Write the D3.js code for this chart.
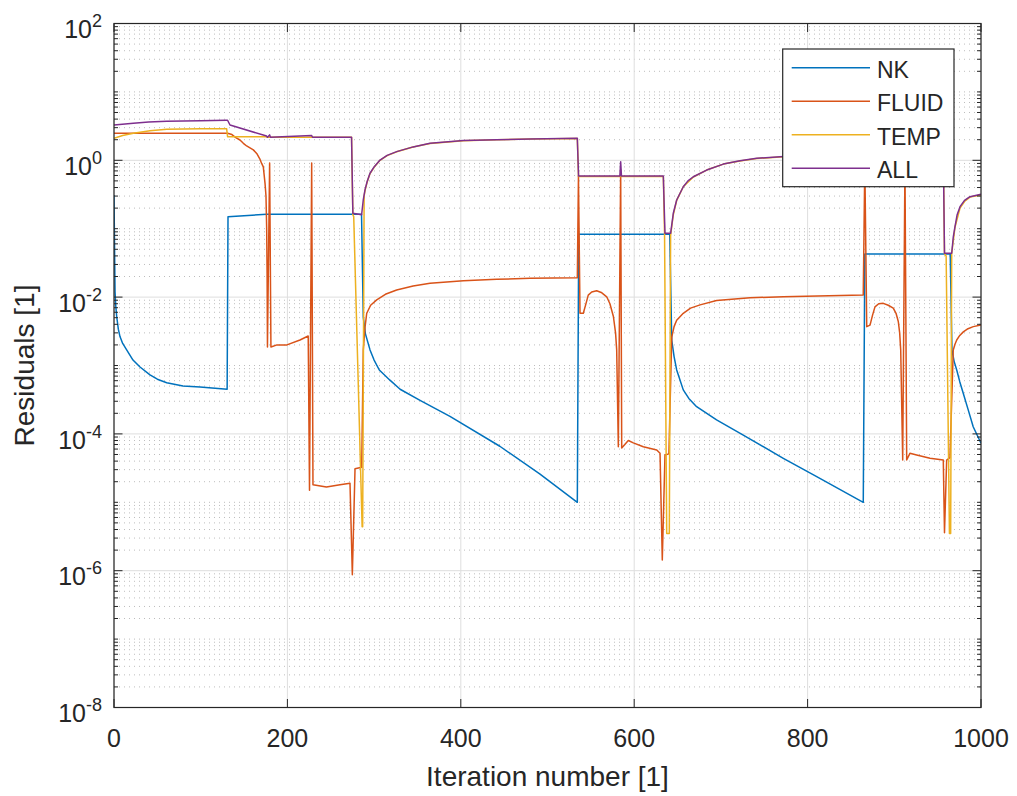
<!DOCTYPE html>
<html>
<head>
<meta charset="utf-8">
<script src="https://d3js.org/d3.v7.min.js"></script>
<style>
  body { margin: 0; background: #fff; }
  text { font-family: "Liberation Sans", Arial, Helvetica, sans-serif; fill: #262626; }
</style>
</head>
<body>
<svg id="chart" width="1017" height="796"></svg>
<script>
// ---- data: [iteration, residual] ----
const NK = [
  [0, 0.31], [0.4, 0.1], [1.2, 0.012], [2, 7.5e-3], [3.1, 5.2e-3], [5, 3.4e-3], [6.9, 2.65e-3],
  [10, 2.1e-3], [14.6, 1.69e-3], [21.9, 1.2e-3], [30, 9.5e-4], [41.5, 7.3e-4], [50, 6.3e-4],
  [60.8, 5.6e-4], [79.6, 5.0e-4], [99.2, 4.85e-4], [130.5, 4.5e-4],
  [131.5, 0.15], [176, 0.162], [285.5, 0.162],
  [287.5, 5.1e-3], [290, 2.9e-3], [295.3, 1.69e-3], [300, 1.2e-3], [306, 8.6e-4],
  [318.3, 6.1e-4], [330, 4.5e-4], [353, 3.1e-4], [387.5, 1.8e-4], [445, 6.6e-5],
  [491, 2.6e-5], [534.4, 1.0e-5],
  [536, 0.083], [641, 0.083],
  [643.3, 2.36e-3], [646, 1.35e-3], [649, 8.6e-4], [656.6, 4.4e-4], [663, 3.3e-4],
  [672, 2.5e-4], [695, 1.6e-4], [725.8, 9.6e-5], [772, 4.4e-5], [810.5, 2.37e-5], [864.2, 1.0e-5],
  [866, 0.0427], [964.5, 0.0427],
  [966.5, 1.69e-3], [969, 1.15e-3], [972, 8.6e-4], [975.5, 5.8e-4], [979.6, 3.9e-4],
  [985, 2.3e-4], [991, 1.27e-4], [1000, 7.3e-5]
]

const FLUID = [
  [0, 2.48], [131, 2.48], [136, 2.38], [140.5, 2.15], [145.3, 1.98], [149.2, 1.77],
  [153, 1.62], [160.7, 1.42], [164.6, 1.26], [168, 1.06], [170.3, 0.9], [172.2, 0.8],
  [174.2, 0.46], [175.3, 0.3], [176.1, 0.1], [176.6, 0.02], [177, 1.86e-3],
  [179.5, 0.91], [181, 1.86e-3],
  [188, 2.0e-3], [199.5, 2.0e-3], [214.5, 2.36e-3], [224, 2.7e-3],
  [225.5, 1.5e-5], [228, 0.91], [229.5, 1.8e-5], [245, 1.67e-5], [260.7, 1.8e-5], [272.2, 1.9e-5],
  [274.9, 8.7e-7], [278, 3.1e-5], [285.7, 3.25e-5],
  [287.5, 1.69e-3], [289.5, 3.6e-3], [291.5, 5.8e-3], [296, 7.6e-3], [303, 9.1e-3],
  [313, 0.011], [326, 0.0127], [345, 0.0145], [364.5, 0.0159],
  [403, 0.0174], [441.4, 0.0182], [480, 0.0188], [534.4, 0.0192],
  [535.7, 0.59], [537.5, 5.8e-3], [541.3, 5.8e-3], [544, 7.7e-3], [547, 0.0107],
  [551, 0.0119], [556.7, 0.0124], [562, 0.0117], [568.3, 0.0101], [572, 8.0e-3],
  [576, 5.2e-3], [578.5, 3.0e-3], [579.8, 1.69e-3], [581.7, 6.5e-5], [584.4, 0.72],
  [585.6, 6.2e-5], [593.2, 8.0e-5], [599, 7.4e-5], [610.5, 6.5e-5], [626, 5.8e-5],
  [629.8, 5.2e-5], [632.4, 1.43e-6], [635.5, 4.9e-5], [640, 5.1e-5],
  [643.3, 2.6e-3], [646, 3.7e-3], [649, 4.6e-3], [656.6, 5.8e-3], [665, 6.9e-3],
  [676, 7.7e-3], [695, 8.9e-3], [733.6, 9.8e-3], [772, 0.0101], [864.2, 0.0107],
  [866, 0.91], [868.2, 3.7e-3], [872, 3.9e-3], [875, 5.5e-3], [877.7, 7.2e-3],
  [882, 8.0e-3], [887.3, 8.1e-3], [893, 7.6e-3], [898.8, 6.9e-3], [902, 5.8e-3],
  [904.6, 4.4e-3], [906.2, 3.0e-3], [907.4, 1.69e-3], [909.7, 4.15e-5], [912.3, 0.91],
  [914.3, 4.15e-5], [918, 5.2e-5], [925.8, 4.9e-5], [941.2, 4.4e-5], [956.5, 4.15e-5],
  [957.9, 3.6e-6], [960.4, 4.15e-5], [964.2, 4.5e-5],
  [968, 1.69e-3], [970, 2.05e-3], [972, 2.36e-3], [975.5, 2.75e-3], [979.6, 3.1e-3],
  [985, 3.45e-3], [991.1, 3.7e-3], [1000, 3.9e-3]
]

const TEMP = [
  [0, 2.1], [10, 2.3], [22.3, 2.48], [41.5, 2.71], [60.8, 2.84], [99.7, 2.9], [129.9, 2.9],
  [131, 2.21], [175.9, 2.21], [177, 2.17], [274, 2.17], [275.5, 0.16], [276.5, 0.15],
  [286.2, 4.4e-6], [286.8, 4.4e-6], [288.5, 0.3], [289.5, 0.36], [292, 0.48], [295.3, 0.64],
  [300, 0.79], [306.8, 1.0], [315, 1.17], [326, 1.33], [345, 1.56], [364.5, 1.76], [403, 1.93],
  [441.4, 1.99], [480, 2.04], [534.4, 2.09], [535.8, 0.58], [633.6, 0.58], [635, 0.085],
  [637.5, 3.5e-6], [640.5, 3.5e-6], [642, 0.08], [645.1, 0.16], [649, 0.26], [656.6, 0.41],
  [668.2, 0.57], [683.6, 0.72], [702.8, 0.88], [722, 0.98], [741.3, 1.06], [768.2, 1.12],
  [800, 1.19], [850, 1.27], [900, 1.32], [956.5, 1.36], [957.9, 0.043], [959.8, 0.04],
  [963.6, 3.5e-6], [965, 3.5e-6], [966.2, 0.043], [970, 0.105], [975.8, 0.2],
  [981, 0.25], [987.3, 0.29], [1000, 0.31]
]

const ALL = [
  [0, 3.28], [22.3, 3.48], [40, 3.62], [60.8, 3.72], [99.7, 3.79], [129.2, 3.85], [131, 3.85],
  [133.8, 3.28], [176, 2.26], [177, 2.17], [179.5, 2.35], [180.5, 2.17], [228, 2.3],
  [229, 2.17], [274, 2.17], [275.5, 0.168], [285.6, 0.16], [287.5, 0.263], [289.5, 0.37],
  [292, 0.49], [295.3, 0.646], [300, 0.8], [306.8, 1.01], [315, 1.18], [326, 1.34],
  [345, 1.57], [364.5, 1.77], [403, 1.94], [441.4, 2.0],
  [480, 2.05], [534.4, 2.1], [535.8, 0.59], [583.5, 0.59], [584.4, 0.95], [585.3, 0.59],
  [633.6, 0.59], [635.5, 0.0857], [642, 0.0857], [645.1, 0.168], [649, 0.263],
  [656.6, 0.411], [662, 0.5], [668.2, 0.575], [683.6, 0.72], [702.8, 0.88], [722, 0.986],
  [741.3, 1.07], [768.2, 1.13], [800, 1.2], [850, 1.28], [900, 1.33], [956.5, 1.37],
  [957.9, 0.0437], [966.2, 0.0437], [968, 0.075], [970, 0.107], [972.5, 0.16], [975.8, 0.21],
  [981, 0.26], [987.3, 0.294], [1000, 0.32]
]

const seriesNames = ["NK", "FLUID", "TEMP", "ALL"]
const seriesColors = ["#0072BD", "#D95319", "#EDB120", "#7E2F8E"]
const xTicks = [0, 200, 400, 600, 800, 1000]
const yExponents = [-8, -6, -4, -2, 0, 2]

// ---- layout ----
const W = 1017, H = 796
const margin = {top: 23.5, right: 36, bottom: 88.5, left: 114}
const width = W - margin.left - margin.right, height = H - margin.top - margin.bottom

const svg = d3.select("#chart")
const g = svg.append("g").attr("transform", `translate(${margin.left},${margin.top})`)

const x = d3.scaleLinear().domain([0, 1000]).range([0, width])
const y = d3.scaleLog().domain([1e-8, 1e2]).range([height, 0])

//minor grid values: every m*10^k that is not a labelled decade
const minorVals = []
for (let k = -8; k < 2; k++) {
  for (let m = 1; m < 10; m++) {
    if (m === 1 && yExponents.includes(k)) continue
    minorVals.push(m * Math.pow(10, k))
  }
}

//minor grid (dotted)
g.append("g").selectAll("line").data(minorVals).enter().append("line")
  .attr("x1", 0).attr("x2", width)
  .attr("y1", d => y(d)).attr("y2", d => y(d))
  .attr("stroke", "#bdbdbd").attr("stroke-width", 1)
  .attr("stroke-dasharray", "1,4")

//major grid
g.append("g").selectAll("line").data(yExponents).enter().append("line")
  .attr("x1", 0).attr("x2", width)
  .attr("y1", d => y(Math.pow(10, d))).attr("y2", d => y(Math.pow(10, d)))
  .attr("stroke", "#dedede").attr("stroke-width", 1)
g.append("g").selectAll("line").data(xTicks).enter().append("line")
  .attr("y1", 0).attr("y2", height)
  .attr("x1", d => x(d)).attr("x2", d => x(d))
  .attr("stroke", "#dedede").attr("stroke-width", 1)

//clip for data
svg.append("defs").append("clipPath").attr("id", "plotClip")
  .append("rect").attr("width", width).attr("height", height)

const line = d3.line().x(d => x(d[0])).y(d => y(d[1]))
const allSeries = [NK, FLUID, TEMP, ALL]
const lines = g.append("g").attr("clip-path", "url(#plotClip)")
allSeries.forEach((s, i) => {
  lines.append("path").datum(s)
    .attr("d", line)
    .attr("fill", "none")
    .attr("stroke", seriesColors[i])
    .attr("stroke-width", 1.5)
    .attr("stroke-linejoin", "round")
})

//box + ticks
const axisColor = "#262626"
g.append("rect").attr("width", width).attr("height", height)
  .attr("fill", "none").attr("stroke", axisColor).attr("stroke-width", 1.2)

const majorLen = 8.5, minorLen = 4
const tickG = g.append("g").attr("stroke", axisColor).attr("stroke-width", 1)
xTicks.forEach(t => {
  tickG.append("line").attr("x1", x(t)).attr("x2", x(t)).attr("y1", height).attr("y2", height - majorLen)
  tickG.append("line").attr("x1", x(t)).attr("x2", x(t)).attr("y1", 0).attr("y2", majorLen)
})
yExponents.forEach(e => {
  const yy = y(Math.pow(10, e))
  tickG.append("line").attr("x1", 0).attr("x2", majorLen).attr("y1", yy).attr("y2", yy)
  tickG.append("line").attr("x1", width).attr("x2", width - majorLen).attr("y1", yy).attr("y2", yy)
})
minorVals.forEach(v => {
  const yy = y(v)
  tickG.append("line").attr("x1", 0).attr("x2", minorLen).attr("y1", yy).attr("y2", yy)
  tickG.append("line").attr("x1", width).attr("x2", width - minorLen).attr("y1", yy).attr("y2", yy)
})

//tick labels
g.append("g").selectAll("text").data(xTicks).enter().append("text")
  .attr("x", d => x(d)).attr("y", height + 39.5)
  .attr("text-anchor", "middle").attr("font-size", 25)
  .text(d => d)

yExponents.forEach(e => {
  const t = g.append("text")
    .attr("x", -12).attr("y", y(Math.pow(10, e)) + 14.7)
    .attr("text-anchor", "end")
  t.append("tspan").attr("font-size", 25).text("10")
  t.append("tspan").attr("font-size", 18).attr("dy", -11).text(e)
})

//axis labels
g.append("text")
  .attr("x", width / 2).attr("y", height + 78.5)
  .attr("text-anchor", "middle").attr("font-size", 28)
  .text("Iteration number [1]")
g.append("text")
  .attr("transform", `translate(${34 - margin.left},${height / 2}) rotate(-90)`)
  .attr("text-anchor", "middle").attr("font-size", 28)
  .text("Residuals [1]")

//legend
const legend = svg.append("g").attr("transform", "translate(782.7,49)")
legend.append("rect").attr("width", 171.3).attr("height", 137.7)
  .attr("fill", "#fff").attr("stroke", axisColor).attr("stroke-width", 1.2)
seriesNames.forEach((name, i) => {
  const ly = 18.7 + i * 33.5
  legend.append("line").attr("x1", 9).attr("x2", 87.3).attr("y1", ly).attr("y2", ly)
    .attr("stroke", seriesColors[i]).attr("stroke-width", 1.5)
  legend.append("text").attr("x", 94.3).attr("y", ly + 10)
    .attr("font-size", 23).text(name)
})
</script>
</body>
</html>
